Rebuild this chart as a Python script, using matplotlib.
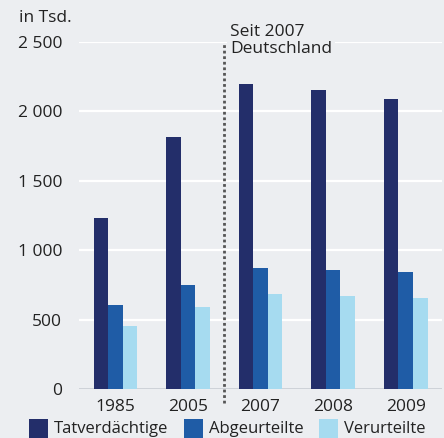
import matplotlib
matplotlib.use("Agg")
import matplotlib.pyplot as plt
from matplotlib.patches import Rectangle
import numpy as np

years = ["1985", "2005", "2007", "2008", "2009"]
tatverdaechtige = [1232, 1815, 2196, 2153, 2088]
abgeurteilte = [606, 750, 873, 859, 844]
verurteilte = [455, 592, 686, 671, 657]
series_names = ["Tatverdächtige", "Abgeurteilte", "Verurteilte"]
yticks = [0, 500, 1000, 1500, 2000, 2500]

bg = "#eceef1"
colors = ["#232e6a", "#1f5ca6", "#a6dbf0"]
fs = 12.5

plt.rcParams["font.family"] = ["Open Sans", "DejaVu Sans"]
plt.rcParams["font.size"] = fs

W, H = 444, 438
fig = plt.figure(figsize=(W / 100, H / 100), dpi=100, facecolor=bg)
ax = fig.add_axes([0.178, 0.1112, 0.8176, 0.7936], facecolor=bg)

x = np.arange(len(years))
w = 0.2
for i, (vals, name) in enumerate(zip([tatverdaechtige, abgeurteilte, verurteilte], series_names)):
    ax.bar(x + (i - 1) * w, vals, width=w, color=colors[i], label=name, zorder=3)

# white gridlines
for t in yticks[1:]:
    ax.axhline(t, color="white", lw=1.6, zorder=1)
ax.axhline(0, color="#c9cdd3", lw=1.2, zorder=2)

ax.set_xlim(-0.5, 4.5)
ax.set_ylim(0, 2500)
ax.set_yticks(yticks)
ax.set_yticklabels([f"{t:,}".replace(",", " ") for t in yticks])
ax.set_xticks(x)
ax.set_xticklabels(years)
ax.tick_params(axis="y", length=0, pad=12, labelsize=fs, colors="#222222")
ax.tick_params(axis="x", length=0, pad=7, labelsize=fs, colors="#222222")
for s in ax.spines.values():
    s.set_visible(False)

# dotted separator
ax.plot([1.5, 1.5], [-95, 2500], color="#555555", lw=2, linestyle=(0, (1, 1)),
        clip_on=False, zorder=4)
ax.text(1.58, 2630, "Seit 2007\nDeutschland", ha="left", va="top", fontsize=fs,
        color="#222222", linespacing=1.1, clip_on=False, zorder=5,
        bbox=dict(facecolor=bg, edgecolor="none", pad=2))

fig.text(0.043, 0.95, "in Tsd.", ha="left", va="baseline", fontsize=fs, color="#222222")

# legend drawn by hand (square + label)
legend_x = [29, 184, 319]
for lx, c, name in zip(legend_x, colors, series_names):
    fig.patches.append(Rectangle((lx / W, 0), 19 / W, 19 / H, facecolor=c,
                                 edgecolor="none", transform=fig.transFigure))
    fig.text((lx + 25) / W, 5 / H, name, ha="left", va="baseline", fontsize=12,
             color="#222222")

fig.savefig("out.png", dpi=100, facecolor=bg)
